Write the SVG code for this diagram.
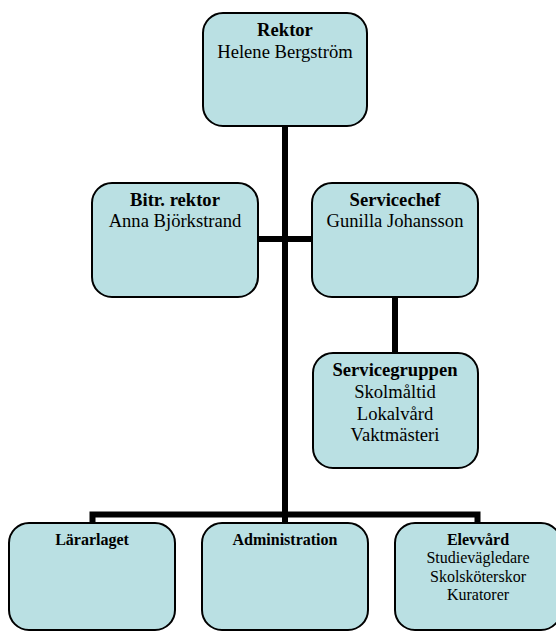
<svg xmlns="http://www.w3.org/2000/svg" width="556" height="631" viewBox="0 0 556 631">
<style>
.box{fill:#BAE0E3;stroke:#000;stroke-width:2}
.t{font-family:"Liberation Serif","Times New Roman",serif;font-size:18.6px;text-anchor:middle;fill:#000}
.s{font-family:"Liberation Serif","Times New Roman",serif;font-size:16px;text-anchor:middle;fill:#000}
.b{font-weight:bold}
.c{fill:none;stroke:#000;stroke-width:6}
</style>
<rect width="556" height="631" fill="#fff"/>
<g id="connectors">
<path class="c" d="M285 126V514.5"/>
<path class="c" d="M258 239H312"/>
<path class="c" d="M395 297V353"/>
<path class="c" d="M92.5 524V514.5H477.5V524"/>
<path class="c" d="M285 514V524"/>
</g>
<g id="rektor">
<rect class="box" x="203" y="13" width="164" height="113" rx="20"/>
<text class="t b" x="285" y="36">Rektor</text>
<text class="t" x="285" y="58">Helene Bergström</text>
</g>
<g id="bitr">
<rect class="box" x="92" y="183" width="166" height="114" rx="20"/>
<text class="t b" x="175" y="206">Bitr. rektor</text>
<text class="t" x="175" y="227">Anna Björkstrand</text>
</g>
<g id="servicechef">
<rect class="box" x="312" y="183" width="166" height="114" rx="20"/>
<text class="t b" x="395" y="206">Servicechef</text>
<text class="t" x="395" y="227">Gunilla Johansson</text>
</g>
<g id="servicegruppen">
<rect class="box" x="313" y="353" width="165" height="115" rx="20"/>
<text class="t b" x="395" y="376">Servicegruppen</text>
<text class="t" x="395" y="398">Skolmåltid</text>
<text class="t" x="395" y="420">Lokalvård</text>
<text class="t" x="395" y="441">Vaktmästeri</text>
</g>
<g id="lararlaget">
<rect class="box" x="9" y="523" width="166" height="107" rx="20"/>
<text class="s b" x="92" y="545">Lärarlaget</text>
</g>
<g id="administration">
<rect class="box" x="202" y="523" width="166" height="107" rx="20"/>
<text class="s b" x="285" y="545">Administration</text>
</g>
<g id="elevvard">
<rect class="box" x="395" y="523" width="166" height="107" rx="20"/>
<text class="s b" x="478" y="545">Elevvård</text>
<text class="s" x="478" y="563">Studievägledare</text>
<text class="s" x="478" y="582">Skolsköterskor</text>
<text class="s" x="478" y="600">Kuratorer</text>
</g>
</svg>
